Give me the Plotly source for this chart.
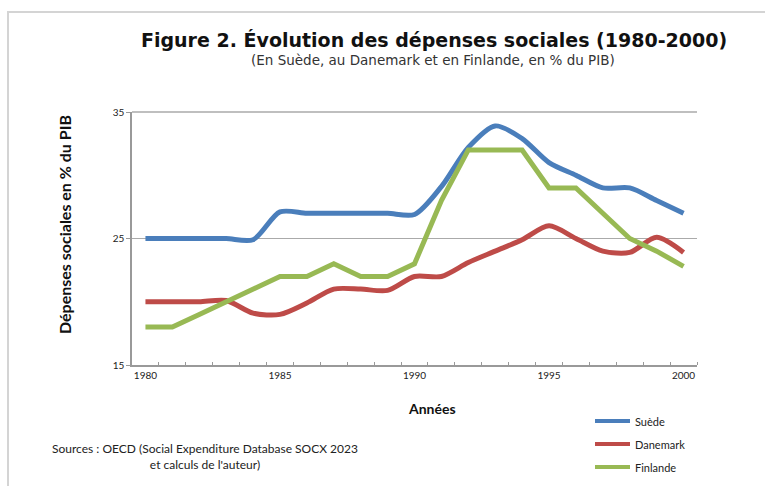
import plotly.graph_objects as go

years = list(range(1980, 2001))
suede = [25, 25, 25, 25, 24.9, 27.1, 27.0, 27.0, 27.0, 27.0, 26.9, 29.1, 32.2, 33.9, 32.9, 31.0, 30.0, 29.0, 29.0, 28.0, 27.0]
danemark = [20, 20, 20, 20.1, 19.1, 19.0, 19.9, 21.0, 21.0, 20.9, 22.0, 22.0, 23.1, 24.0, 24.9, 26.0, 25.0, 24.0, 23.9, 25.1, 23.9]
finlande = [18, 18, 19, 20, 21, 22, 22, 23, 22, 22, 23, 28, 32, 32, 32, 29, 29, 27, 25, 24, 22.8]

series_names = ["Suède", "Danemark", "Finlande"]
series_values = [suede, danemark, finlande]
colors = ["#4a7ebb", "#be4b48", "#98b954"]
shapes_kind = ["spline", "spline", "linear"]

x_ticks = [1980, 1985, 1990, 1995, 2000]
y_ticks = [15, 25, 35]

W, H = 765, 486
L, R, T, B = 132, 68, 112, 121
PW, PH = W - L - R, H - T - B

def px(x):
    return (x - L) / PW

def py(y):
    return (H - B - y) / PH

fig = go.Figure()
for name, vals, col, sh in zip(series_names, series_values, colors, shapes_kind):
    fig.add_trace(go.Scatter(x=years, y=vals, mode="lines", name=name,
                             line=dict(color=col, width=5, shape=sh, smoothing=0.8),
                             showlegend=False))

font_txt = "Lato, Calibri, Carlito, sans-serif"

annotations = [
    dict(text="<b>Figure 2. Évolution des dépenses sociales (1980-2000)</b>", x=px(434), y=py(40),
         xref="paper", yref="paper", showarrow=False, xanchor="center", yanchor="middle",
         font=dict(family="DejaVu Sans", size=19, color="#111")),
    dict(text="(En Suède, au Danemark et en Finlande, en % du PIB)", x=px(433), y=py(60),
         xref="paper", yref="paper", showarrow=False, xanchor="center", yanchor="middle",
         font=dict(family="DejaVu Sans", size=13.5, color="#333")),
    dict(text="<b>Dépenses sociales en % du PIB</b>", x=px(64), y=py(225), textangle=-90,
         xref="paper", yref="paper", showarrow=False, xanchor="center", yanchor="middle",
         font=dict(family=font_txt, size=16, color="#111")),
    dict(text="<b>Années</b>", x=px(432), y=py(408),
         xref="paper", yref="paper", showarrow=False, xanchor="center", yanchor="middle",
         font=dict(family=font_txt, size=14, color="#111")),
    dict(text="Sources : OECD (Social Expenditure Database SOCX 2023<br>et calculs de l'auteur)",
         x=px(205), y=py(456), align="center",
         xref="paper", yref="paper", showarrow=False, xanchor="center", yanchor="middle",
         font=dict(family=font_txt, size=12, color="#222")),
]

shapes = [
    dict(type="rect", xref="paper", yref="paper", x0=px(8), y0=py(12), x1=px(780), y1=py(500),
         line=dict(color="#d4d4d4", width=2), fillcolor="rgba(0,0,0,0)", layer="below"),
    # top gridline (upper end of the value axis)
    dict(type="line", xref="paper", yref="paper", x0=0, x1=1, y0=1, y1=1,
         line=dict(color="#aaa", width=1.5), layer="above"),
]

leg_y = [421, 444, 467]
for name, col, yy in zip(series_names, colors, leg_y):
    shapes.append(dict(type="line", xref="paper", yref="paper", x0=px(595), x1=px(630),
                       y0=py(yy), y1=py(yy), line=dict(color=col, width=4)))
    annotations.append(dict(text=name, x=px(633), y=py(yy), xref="paper", yref="paper",
                            showarrow=False, xanchor="left", yanchor="middle",
                            font=dict(family=font_txt, size=11, color="#222")))

fig.update_layout(
    width=W, height=H,
    margin=dict(l=L, r=R, t=T, b=B),
    paper_bgcolor="white", plot_bgcolor="white",
    annotations=annotations, shapes=shapes,
    xaxis=dict(range=[1979.5, 2000.5], tickmode="array", tickvals=x_ticks,
               ticktext=[str(v) for v in x_ticks], showgrid=False, zeroline=False,
               showline=True, linecolor="#999", linewidth=1.5, ticks="",
               tickfont=dict(family=font_txt, size=10, color="#222")),
    yaxis=dict(range=[15, 35], tickmode="array", tickvals=y_ticks,
               ticktext=[str(v) for v in y_ticks], showgrid=True, gridcolor="#aaa",
               gridwidth=1.2, zeroline=False, showline=True, linecolor="#999", linewidth=1.5,
               ticks="outside", ticklen=4, tickcolor="#999",
               tickfont=dict(family=font_txt, size=10, color="#222")),
)

fig.update_xaxes(minor=dict(tickmode="array", tickvals=[y + 0.5 for y in years[:-1]] + [2000.5],
                            ticks="inside", ticklen=3, tickcolor="#999", showgrid=False))

fig.write_html("out.html")
